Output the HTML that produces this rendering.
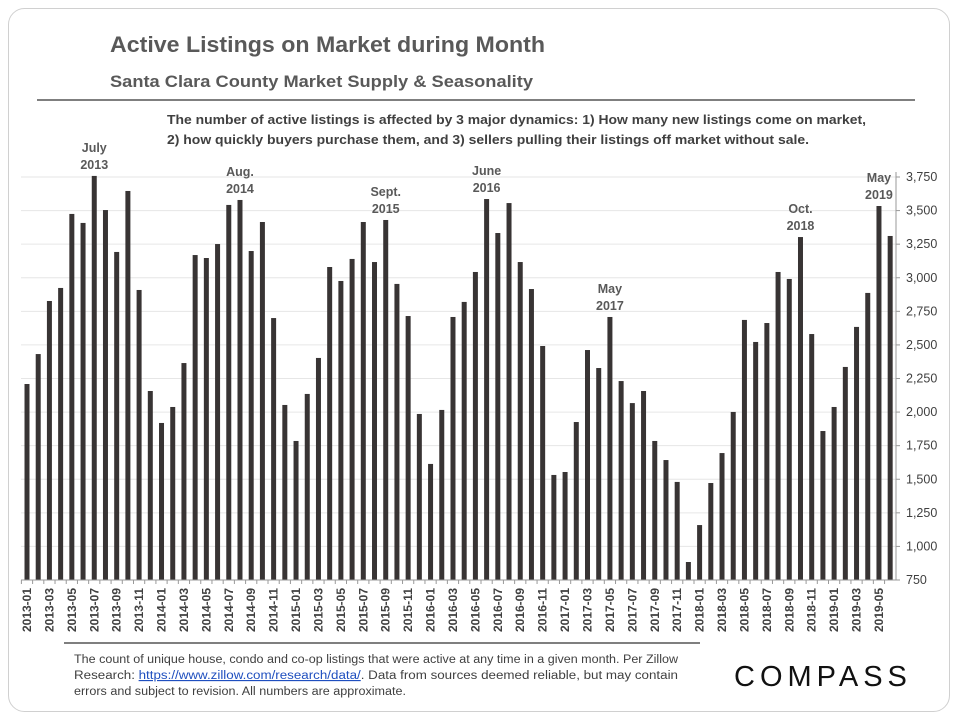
<!DOCTYPE html>
<html><head><meta charset="utf-8"><style>
body{margin:0;background:#fff;width:960px;height:720px;overflow:hidden;font-family:"Liberation Sans",sans-serif}
svg{position:absolute;left:0;top:0}
</style></head><body>
<svg width="960" height="720">
<rect x="8.5" y="8.5" width="941" height="703" rx="16" fill="none" stroke="#d0d0d0"/>
<text x="110" y="52" font-size="22" font-weight="bold" fill="#595959" textLength="435" lengthAdjust="spacingAndGlyphs">Active Listings on Market during Month</text>
<text x="110" y="87" font-size="17" font-weight="bold" fill="#595959" textLength="423" lengthAdjust="spacingAndGlyphs">Santa Clara County Market Supply &amp; Seasonality</text>
<line x1="37" y1="100" x2="915" y2="100" stroke="#7f7f7f" stroke-width="2"/>
<text x="167" y="124" font-size="13" font-weight="bold" fill="#404040" textLength="699" lengthAdjust="spacingAndGlyphs">The number of active listings is affected by 3 major dynamics: 1) How many new listings come on market,</text>
<text x="167" y="144" font-size="13" font-weight="bold" fill="#404040" textLength="642" lengthAdjust="spacingAndGlyphs">2) how quickly buyers purchase them, and 3) sellers pulling their listings off market without sale.</text>
<g id="grid"></g><g id="bars"></g><g id="axes"></g><g id="ann"></g>
<line x1="64" y1="643" x2="700" y2="643" stroke="#7f7f7f" stroke-width="2"/>
<g font-size="11.5" fill="#404040">
<text x="74" y="663" textLength="604" lengthAdjust="spacingAndGlyphs">The count of unique house, condo and co-op listings that were active at any time in a given month. Per Zillow</text>
<text x="74" y="679" textLength="604" lengthAdjust="spacingAndGlyphs">Research: <tspan fill="#1f4fbf" text-decoration="underline">https://www.zillow.com/research/data/</tspan>. Data from sources deemed reliable, but may contain</text>
<text x="74" y="695" textLength="332" lengthAdjust="spacingAndGlyphs">errors and subject to revision. All numbers are approximate.</text>
</g>
<text x="734" y="686" font-size="29" letter-spacing="5" fill="#111">COMPASS</text>
</svg>
<script>
const categories=[];for(let y=2013;y<=2019;y++)for(let m=1;m<=12;m++){if(y===2019&&m>6)break;categories.push(y+'-'+String(m).padStart(2,'0'));}
const values=[2209,2432,2827,2924,3475,3408,3758,3504,3192,3646,2909,2157,1919,2038,2365,3169,3147,3251,3542,3579,3199,3415,2700,2053,1785,2135,2403,3080,2976,3140,3415,3117,3430,2954,2715,1986,1614,2016,2708,2820,3043,3586,3333,3556,3117,2916,2492,1532,1554,1926,2462,2328,2708,2231,2067,2157,1785,1643,1480,884,1159,1472,1695,2001,2686,2522,2663,3043,2991,3303,2581,1859,2038,2336,2634,2887,3534,3311];
const yTicks=[750,1000,1250,1500,1750,2000,2250,2500,2750,3000,3250,3500,3750];
const annIdx=[6,19,32,41,52,69,76];
const annL1=['July','Aug.','Sept.','June','May','Oct.','May'];
const annL2=['2013','2014','2015','2016','2017','2018','2019'];
const NS='http://www.w3.org/2000/svg';
const y0=580,y1=177,vmin=750,vmax=3750,x0=27,step=11.21,bw=5;
const Y=v=>y0-(v-vmin)*(y0-y1)/(vmax-vmin);
const X=i=>x0+i*step;
function mk(t,a,p){const e=document.createElementNS(NS,t);for(const k in a)e.setAttribute(k,a[k]);p.appendChild(e);return e;}
const grid=document.getElementById('grid'),bars=document.getElementById('bars'),axes=document.getElementById('axes'),ann=document.getElementById('ann');
yTicks.forEach(v=>{
 const l=mk('line',{x1:21,x2:896,y1:Y(v),y2:Y(v),stroke:'#e6e6e6'},grid);
 
 
 mk('line',{x1:896,x2:900,y1:Y(v),y2:Y(v),stroke:'#999'},axes);
 const t=mk('text',{x:906,y:Y(v)+4,'font-size':12.5,fill:'#404040'},axes);t.textContent=v.toLocaleString('en-US');
 
 
});
mk('line',{x1:896,x2:896,y1:y1-5,y2:y0,stroke:'#999'},axes);
mk('line',{x1:21,x2:896,y1:y0,y2:y0,stroke:'#999'},axes);
values.forEach((v,i)=>{
 const r=mk('rect',{x:X(i)-bw/2,y:Y(v),width:bw,height:y0-Y(v),fill:'#383434'},bars);
 
 
 mk('line',{x1:X(i)-step/2,x2:X(i)-step/2,y1:y0,y2:y0+4,stroke:'#999'},axes);
 if(i%2===0){
  const t=mk('text',{transform:`translate(${X(i)+4},${y0+8}) rotate(-90)`,'text-anchor':'end','font-size':11.5,'font-weight':'bold',fill:'#404040',textLength:44,lengthAdjust:'spacingAndGlyphs'},axes);
  t.textContent=categories[i];
  
  
 }
});
annIdx.forEach((i,k)=>{
 const top=Y(values[i]);
 const a=mk('text',{x:X(i),y:top-24,'text-anchor':'middle','font-size':12.5,'font-weight':'bold',fill:'#595959'},ann);a.textContent=annL1[k];
 
 
 const b=mk('text',{x:X(i),y:top-7,'text-anchor':'middle','font-size':12.5,'font-weight':'bold',fill:'#595959'},ann);b.textContent=annL2[k];
 
 
});
</script>
</body></html>
